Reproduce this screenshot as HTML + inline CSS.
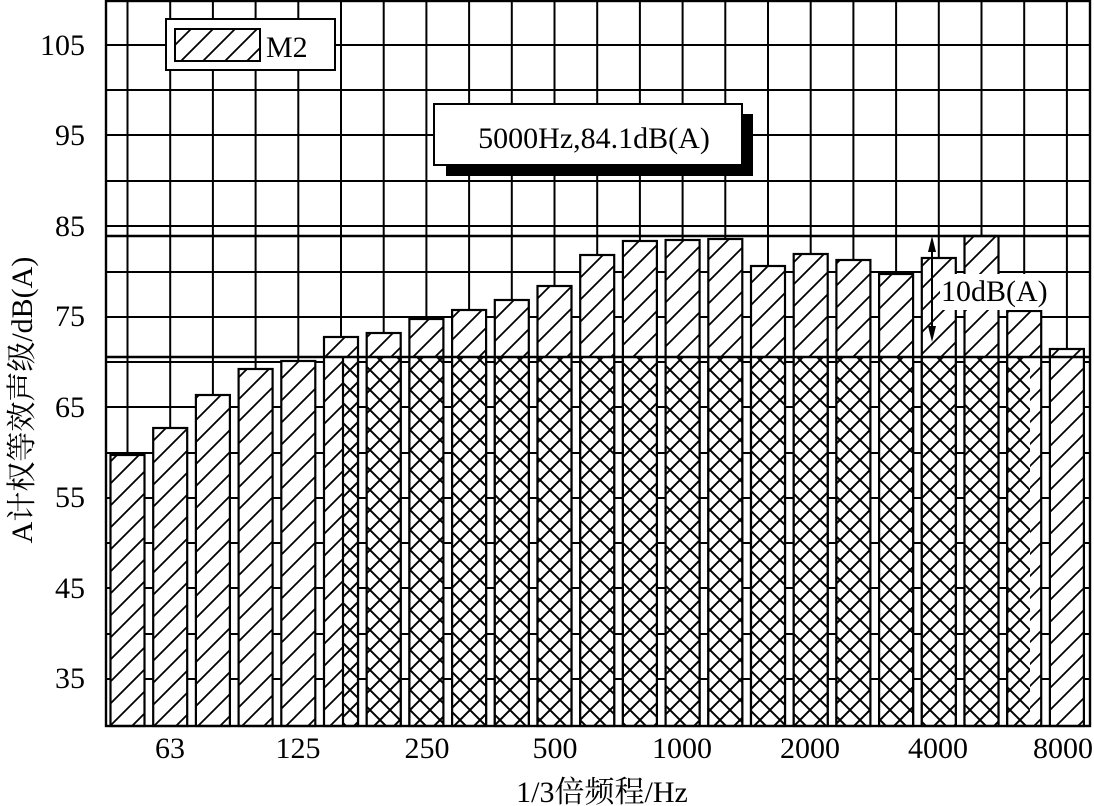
<!DOCTYPE html>
<html><head><meta charset="utf-8"><style>
html,body{margin:0;padding:0;background:#fff;}
svg{display:block;}
text{font-family:"Liberation Serif","Noto Serif CJK SC",serif;fill:#000;}
</style></head><body>
<svg width="1094" height="806" viewBox="0 0 1094 806" xmlns="http://www.w3.org/2000/svg">
<defs>
<pattern id="d" patternUnits="userSpaceOnUse" width="22" height="22">
<rect width="22" height="22" fill="#fff"/>
<path d="M-2,24 L24,-2 M-13,13 L13,-13 M9,35 L35,9" stroke="#000" stroke-width="1.8"/>
</pattern>
<pattern id="x" patternUnits="userSpaceOnUse" width="20" height="20">
<rect width="20" height="20" fill="#fff"/>
<path d="M0,0 L20,20 M20,0 L0,20 M-10,10 L10,30 M10,-10 L30,10 M10,-10 L-10,10 M30,10 L10,30" stroke="#000" stroke-width="2"/>
</pattern>
<clipPath id="cx"><rect x="343" y="358" width="687" height="368"/></clipPath>
</defs>
<rect width="1094" height="806" fill="#fff"/>
<g stroke="#000" stroke-width="2" fill="none">
<path d="M106,45H1090M106,90H1090M106,135H1090M106,181H1090M106,226H1090M106,272H1090M106,317H1090M106,362H1090M106,407H1090M106,453H1090M106,498H1090M106,543H1090M106,588H1090M106,634H1090M106,679H1090"/>
</g>
<g stroke="#000" stroke-width="2">
<line x1="127.5" y1="0" x2="127.5" y2="726"/><line x1="170.2" y1="0" x2="170.2" y2="726"/><line x1="212.9" y1="0" x2="212.9" y2="726"/><line x1="255.6" y1="0" x2="255.6" y2="726"/><line x1="298.3" y1="0" x2="298.3" y2="726"/><line x1="341" y1="0" x2="341" y2="726"/><line x1="383.7" y1="0" x2="383.7" y2="726"/><line x1="426.4" y1="0" x2="426.4" y2="726"/><line x1="469.1" y1="0" x2="469.1" y2="726"/><line x1="511.8" y1="0" x2="511.8" y2="726"/><line x1="554.5" y1="0" x2="554.5" y2="726"/><line x1="597.2" y1="0" x2="597.2" y2="726"/><line x1="639.9" y1="0" x2="639.9" y2="726"/><line x1="682.6" y1="0" x2="682.6" y2="726"/><line x1="725.3" y1="0" x2="725.3" y2="726"/><line x1="768" y1="0" x2="768" y2="726"/><line x1="810.7" y1="0" x2="810.7" y2="726"/><line x1="853.4" y1="0" x2="853.4" y2="726"/><line x1="896.1" y1="0" x2="896.1" y2="726"/><line x1="938.8" y1="0" x2="938.8" y2="726"/><line x1="981.5" y1="0" x2="981.5" y2="726"/><line x1="1024.2" y1="0" x2="1024.2" y2="726"/><line x1="1066.9" y1="0" x2="1066.9" y2="726"/>
</g>
<g stroke="#000" stroke-width="2.2" fill="url(#d)">
<rect x="110.5" y="455" width="34" height="271"/>
<rect x="153.2" y="428" width="34" height="298"/>
<rect x="195.9" y="395" width="34" height="331"/>
<rect x="238.6" y="369" width="34" height="357"/>
<rect x="281.3" y="361" width="34" height="365"/>
<rect x="324" y="337" width="34" height="389"/>
<rect x="366.7" y="333" width="34" height="393"/>
<rect x="409.4" y="319" width="34" height="407"/>
<rect x="452.1" y="310" width="34" height="416"/>
<rect x="494.8" y="300" width="34" height="426"/>
<rect x="537.5" y="286" width="34" height="440"/>
<rect x="580.2" y="255" width="34" height="471"/>
<rect x="622.9" y="241" width="34" height="485"/>
<rect x="665.6" y="240" width="34" height="486"/>
<rect x="708.3" y="239" width="34" height="487"/>
<rect x="751" y="266" width="34" height="460"/>
<rect x="793.7" y="254" width="34" height="472"/>
<rect x="836.4" y="260" width="34" height="466"/>
<rect x="879.1" y="274" width="34" height="452"/>
<rect x="921.8" y="258" width="34" height="468"/>
<rect x="964.5" y="236" width="34" height="490"/>
<rect x="1007.2" y="311" width="34" height="415"/>
<rect x="1049.9" y="349" width="34" height="377"/>
</g>
<g clip-path="url(#cx)" fill="url(#x)" stroke="#000" stroke-width="2.2">
<rect x="324" y="337" width="34" height="389"/>
<rect x="366.7" y="333" width="34" height="393"/>
<rect x="409.4" y="319" width="34" height="407"/>
<rect x="452.1" y="310" width="34" height="416"/>
<rect x="494.8" y="300" width="34" height="426"/>
<rect x="537.5" y="286" width="34" height="440"/>
<rect x="580.2" y="255" width="34" height="471"/>
<rect x="622.9" y="241" width="34" height="485"/>
<rect x="665.6" y="240" width="34" height="486"/>
<rect x="708.3" y="239" width="34" height="487"/>
<rect x="751" y="266" width="34" height="460"/>
<rect x="793.7" y="254" width="34" height="472"/>
<rect x="836.4" y="260" width="34" height="466"/>
<rect x="879.1" y="274" width="34" height="452"/>
<rect x="921.8" y="258" width="34" height="468"/>
<rect x="964.5" y="236" width="34" height="490"/>
<rect x="1007.2" y="311" width="34" height="415"/>
</g>
<line x1="343" y1="357" x2="343" y2="726" stroke="#000" stroke-width="2.2"/>
<line x1="106" y1="357" x2="1090" y2="357" stroke="#000" stroke-width="2.4"/>
<line x1="106" y1="236" x2="1090" y2="236" stroke="#000" stroke-width="2.4"/>
<rect x="106" y="1" width="984" height="725" fill="none" stroke="#000" stroke-width="2.4"/>
<rect x="166" y="19" width="169" height="51" fill="#fff" stroke="#000" stroke-width="2"/>
<rect x="175" y="29" width="85" height="32" fill="url(#d)" stroke="#000" stroke-width="2"/>
<text x="266" y="57" font-size="30">M2</text>
<rect x="446" y="114" width="307" height="62" fill="#000"/>
<rect x="434" y="104" width="308" height="61" fill="#fff" stroke="#000" stroke-width="2"/>
<text x="594" y="148" font-size="30" text-anchor="middle">5000Hz,84.1dB(A)</text>
<rect x="940" y="274" width="114" height="36" fill="#fff"/>
<line x1="932" y1="246" x2="932" y2="332" stroke="#000" stroke-width="2"/>
<path d="M932,236 L928,252 L936,252Z M932,342 L928,326 L936,326Z" fill="#000"/>
<text x="941" y="301" font-size="30">10dB(A)</text>
<g font-size="30" text-anchor="end">
<text x="85" y="55">105</text><text x="85" y="145">95</text><text x="85" y="236">85</text><text x="85" y="326">75</text><text x="85" y="417">65</text><text x="85" y="507">55</text><text x="85" y="598">45</text><text x="85" y="688">35</text>
</g>
<g font-size="30" text-anchor="middle">
<text x="170" y="758">63</text><text x="298" y="758">125</text><text x="427" y="758">250</text><text x="555" y="758">500</text><text x="682" y="758">1000</text><text x="810" y="758">2000</text><text x="938" y="758">4000</text><text x="1063" y="758">8000</text>
</g>
<text x="602" y="802" font-size="30" text-anchor="middle">1/3倍频程/Hz</text>
<text transform="translate(32,400) rotate(-90)" font-size="30" text-anchor="middle">A计权等效声级/dB(A)</text>
</svg>
</body></html>
